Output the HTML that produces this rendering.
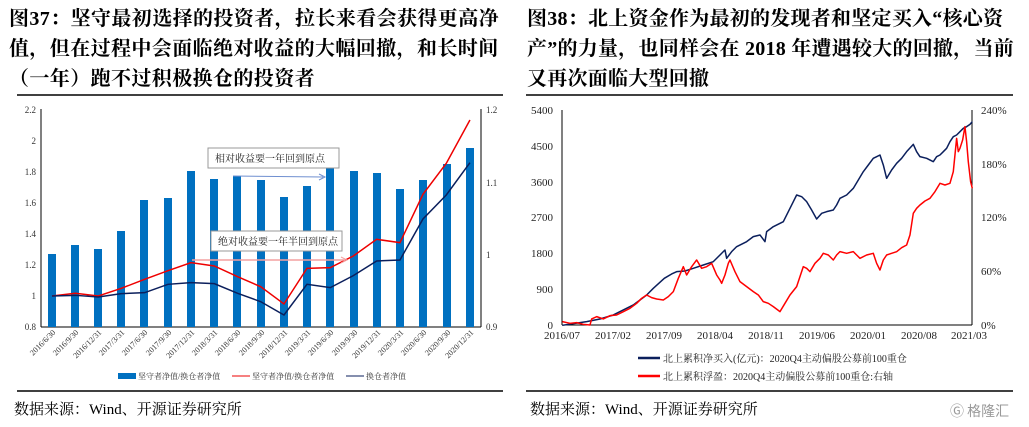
<!DOCTYPE html>
<html><head><meta charset="utf-8"><style>
body{margin:0;width:1029px;height:427px;background:#fff;overflow:hidden;position:relative;font-family:"Liberation Serif","Noto Serif CJK SC",serif}
.t{position:absolute;font-size:20px;font-weight:bold;line-height:30px;color:#000;white-space:nowrap}
.s{position:absolute;font-size:15px;color:#000;top:398px}
svg{position:absolute;left:0;top:0}
</style></head><body>
<div class="t" style="left:9px;top:4px;letter-spacing:0.4px">图37：坚守最初选择的投资者，拉长来看会获得更高净<br>值，但在过程中会面临绝对收益的大幅回撤，和长时间<br>（一年）跑不过积极换仓的投资者</div>
<div class="t" style="left:527px;top:4px;letter-spacing:0.25px">图38：北上资金作为最初的发现者和坚定买入“核心资<br>产”的力量，也同样会在 2018 年遭遇较大的回撤，当前<br>又再次面临大型回撤</div>
<div class="s" style="left:14px">数据来源：Wind、开源证券研究所</div>
<div class="s" style="left:530px">数据来源：Wind、开源证券研究所</div>
<div style="position:absolute;left:950px;top:401px;font-size:14px;color:#999;font-family:'Noto Sans CJK SC',sans-serif">Ⓖ 格隆汇</div>
<svg width="1029" height="427" font-family="Liberation Serif, Noto Serif CJK SC, serif">
<line x1="17" y1="95" x2="503" y2="95" stroke="#000" stroke-width="1.5"/>
<line x1="17" y1="391" x2="503" y2="391" stroke="#000" stroke-width="1.5"/>
<line x1="526" y1="95" x2="1013" y2="95" stroke="#000" stroke-width="1.5"/>
<line x1="526" y1="391" x2="1013" y2="391" stroke="#000" stroke-width="1.5"/>
<!-- left chart -->
<g font-size="9" fill="#333">
<line x1="41" y1="109" x2="41" y2="327" stroke="#000"/>
<line x1="481" y1="109" x2="481" y2="327" stroke="#000"/>
<line x1="41" y1="327" x2="481" y2="327" stroke="#000"/>
<g text-anchor="end">
<text x="36" y="113">2.2</text><text x="36" y="144">2</text><text x="36" y="175">1.8</text><text x="36" y="206">1.6</text><text x="36" y="237">1.4</text><text x="36" y="268">1.2</text><text x="36" y="299">1</text><text x="36" y="330">0.8</text>
</g>
<text x="486" y="113">1.2</text><text x="486" y="186">1.1</text><text x="486" y="258">1</text><text x="486" y="330">0.9</text>
<g fill="#0070C0">
<rect x="48" y="254" width="8" height="73"/><rect x="71" y="245" width="8" height="82"/><rect x="94" y="249" width="8" height="78"/><rect x="117" y="231" width="8" height="96"/><rect x="140" y="200" width="8" height="127"/><rect x="164" y="198" width="8" height="129"/><rect x="187" y="171" width="8" height="156"/><rect x="210" y="179" width="8" height="148"/><rect x="233" y="176" width="8" height="151"/><rect x="257" y="180" width="8" height="147"/><rect x="280" y="197" width="8" height="130"/><rect x="303" y="186" width="8" height="141"/><rect x="326" y="168" width="8" height="159"/><rect x="350" y="171" width="8" height="156"/><rect x="373" y="173" width="8" height="154"/><rect x="396" y="189" width="8" height="138"/><rect x="419" y="180" width="8" height="147"/><rect x="443" y="164" width="8" height="163"/><rect x="466" y="148" width="8" height="179"/>
</g>
<g transform="translate(0,95) scale(0.3333)" fill="none" stroke-width="1.5">
<polyline vector-effect="non-scaling-stroke" stroke="#E00" points="156,603 226,595 295,603 364,580 434,553 504,527 573,503 643,513 713,545 782,575 852,627 921,520 991,518 1060,483 1130,433 1200,443 1269,298 1339,205 1410,75"/>
<polyline vector-effect="non-scaling-stroke" stroke="#0B1F5C" points="156,603 226,601 295,606 364,596 434,593 504,568 573,563 643,566 713,595 782,620 852,660 921,568 991,578 1060,542 1130,498 1200,495 1269,372 1339,300 1410,203"/>
</g>
<rect x="208" y="148" width="131" height="20" fill="#fff" stroke="#999"/>
<text x="215" y="162" font-size="10" fill="#222">相对收益要一年回到原点</text>
<line x1="233" y1="176" x2="323" y2="177" stroke="#6F8FD0"/><path d="M319,174 L325,177 L319,180" fill="none" stroke="#6F8FD0"/>
<line x1="192" y1="260" x2="345" y2="260" stroke="#F4A0A0" stroke-width="1.5"/><path d="M341,257 L347,260 L341,263" fill="none" stroke="#F4A0A0"/>
<rect x="211" y="231" width="131" height="20" fill="#fff" stroke="#999"/>
<text x="218" y="245" font-size="10" fill="#222">绝对收益要一年半回到原点</text>
<g font-size="8" text-anchor="end">
<text transform="translate(56,333) rotate(-45)">2016/6/30</text><text transform="translate(79,333) rotate(-45)">2016/9/30</text><text transform="translate(102,333) rotate(-45)">2016/12/31</text><text transform="translate(125,333) rotate(-45)">2017/3/31</text><text transform="translate(148,333) rotate(-45)">2017/6/30</text><text transform="translate(172,333) rotate(-45)">2017/9/30</text><text transform="translate(195,333) rotate(-45)">2017/12/31</text><text transform="translate(218,333) rotate(-45)">2018/3/31</text><text transform="translate(241,333) rotate(-45)">2018/6/30</text><text transform="translate(265,333) rotate(-45)">2018/9/30</text><text transform="translate(288,333) rotate(-45)">2018/12/31</text><text transform="translate(311,333) rotate(-45)">2019/3/31</text><text transform="translate(334,333) rotate(-45)">2019/6/30</text><text transform="translate(358,333) rotate(-45)">2019/9/30</text><text transform="translate(381,333) rotate(-45)">2019/12/31</text><text transform="translate(404,333) rotate(-45)">2020/3/31</text><text transform="translate(427,333) rotate(-45)">2020/6/30</text><text transform="translate(451,333) rotate(-45)">2020/9/30</text><text transform="translate(474,333) rotate(-45)">2020/12/31</text>
</g>
<rect x="118" y="373" width="18" height="6" fill="#0070C0"/><text x="138" y="379" font-size="8">坚守者净值/换仓者净值</text>
<line x1="232" y1="376" x2="250" y2="376" stroke="#E00"/><text x="252" y="379" font-size="8">坚守者净值/换仓者净值</text>
<line x1="346" y1="376" x2="364" y2="376" stroke="#0B1F5C"/><text x="366" y="379" font-size="8">换仓者净值</text>
</g>
<!-- right chart -->
<g font-size="11" fill="#222">
<line x1="562" y1="110" x2="562" y2="325" stroke="#000"/>
<line x1="972" y1="110" x2="972" y2="325" stroke="#000"/>
<line x1="562" y1="325" x2="972" y2="325" stroke="#000"/>
<g text-anchor="end">
<text x="553" y="114">5400</text><text x="553" y="150">4500</text><text x="553" y="186">3600</text><text x="553" y="221">2700</text><text x="553" y="257">1800</text><text x="553" y="293">900</text><text x="553" y="329">0</text>
</g>
<text x="981" y="114">240%</text><text x="981" y="168">180%</text><text x="981" y="221">120%</text><text x="981" y="275">60%</text><text x="981" y="329">0%</text>
<g text-anchor="middle">
<text x="562" y="339">2016/07</text><text x="613" y="339">2017/02</text><text x="664" y="339">2017/09</text><text x="715" y="339">2018/04</text><text x="766" y="339">2018/11</text><text x="817" y="339">2019/06</text><text x="868" y="339">2020/01</text><text x="919" y="339">2020/08</text><text x="969" y="339">2021/03</text>
</g>
<g transform="translate(520,95) scale(0.3333)" fill="none" stroke-width="1.5" stroke-linejoin="round">
<polyline vector-effect="non-scaling-stroke" stroke="#0B1F5C" points="127,691 160,686 200,680 240,672 280,660 310,645 340,630 360,615 380,600 400,580 433,550 455,537 470,530 495,528 520,520 550,510 580,500 600,480 610,470 615,465 620,490 635,470 650,455 680,440 700,425 720,420 735,440 740,410 760,395 790,380 805,350 820,320 830,300 845,305 860,320 875,345 890,372 905,355 920,350 940,345 950,330 960,310 980,300 1000,280 1015,255 1030,230 1045,210 1060,190 1070,185 1080,180 1090,210 1100,250 1115,225 1130,205 1145,190 1160,170 1180,148 1190,170 1200,185 1220,190 1240,200 1250,185 1260,180 1270,170 1280,160 1290,140 1300,125 1310,120 1320,110 1330,100 1340,95 1350,88 1357,80"/>
<polyline vector-effect="non-scaling-stroke" stroke="#F00" points="127,680 150,685 170,683 190,688 210,690 215,672 230,665 250,672 270,662 290,660 310,650 330,640 350,625 365,610 380,600 395,608 410,612 430,615 445,605 460,590 475,550 490,515 500,540 515,515 530,495 545,520 560,515 575,505 590,540 600,555 605,565 615,540 625,505 630,495 645,530 660,560 680,575 700,590 715,600 730,620 745,625 760,635 780,650 795,625 810,600 830,575 840,545 850,515 860,520 870,530 885,505 900,490 910,475 925,480 940,495 950,480 960,470 980,475 1000,470 1010,480 1020,490 1040,480 1060,475 1070,505 1080,525 1090,495 1100,480 1115,475 1130,470 1145,458 1160,450 1170,420 1180,355 1190,340 1200,330 1215,318 1230,310 1245,290 1260,265 1275,270 1290,265 1300,230 1305,180 1310,130 1315,170 1320,160 1328,135 1335,95 1340,140 1345,200 1352,260 1357,280"/>
</g>
<line x1="638" y1="358" x2="660" y2="358" stroke="#0B1F5C" stroke-width="2.5"/>
<text x="663" y="362" font-size="10">北上累积净买入(亿元)：2020Q4主动偏股公募前100重仓</text>
<line x1="638" y1="376" x2="660" y2="376" stroke="#F00" stroke-width="2.5"/>
<text x="663" y="380" font-size="10">北上累积浮盈：2020Q4主动偏股公募前100重仓:右轴</text>
</g>
</svg>
</body></html>
